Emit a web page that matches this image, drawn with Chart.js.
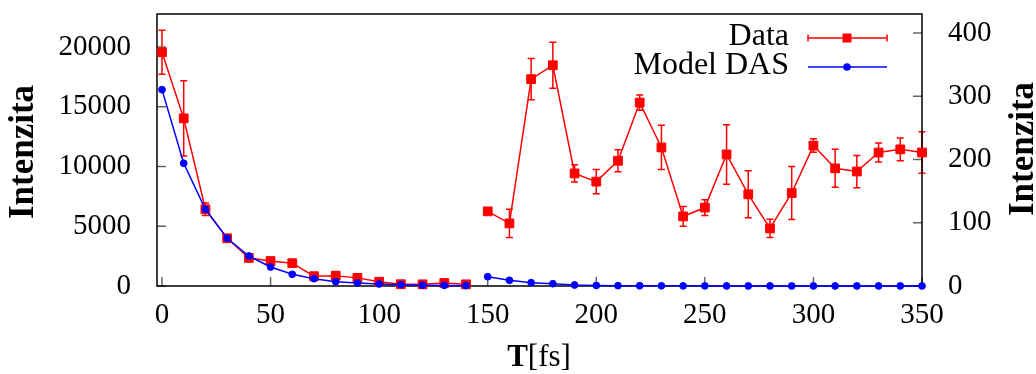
<!DOCTYPE html>
<html>
<head>
<meta charset="utf-8">
<script src="https://cdn.jsdelivr.net/npm/chart.js@4.4.1/dist/chart.umd.min.js"></script>
<style>
  html, body { margin: 0; padding: 0; background: #fff; }
  canvas { display: block; }
</style>
</head>
<body>
<canvas id="dasChart" width="1036" height="374"></canvas>
<script>
// delay times [fs]
const timesEarly = [0, 10, 20, 30, 40, 50, 60, 70, 80, 90, 100, 110, 120, 130, 140];
const timesLate = [150, 160, 170, 180, 190, 200, 210, 220, 230, 240, 250, 260, 270, 280, 290, 300, 310, 320, 330, 340, 350];

// measured intensity, left axis (0-140 fs) and right axis (150-350 fs)
const dataEarly = [19560, 14030, 6420, 3990, 2350, 2090, 1910, 820, 865, 680, 360, 150, 140, 250, 140];
const errEarly = [1850, 3150, 530, 150, 150, 100, 100, 80, 80, 60, 60, 50, 50, 50, 50];
const dataLate = [118, 99, 327, 349, 178, 165, 198, 290, 219, 110, 124, 208, 145, 91, 147, 222, 186, 181, 211, 216, 211];
const errLate = [3, 22.5, 32.5, 36.5, 13.5, 19, 17.5, 12, 35, 15.5, 12.5, 47, 37, 14.5, 42, 10.7, 30, 25.5, 15, 17.8, 32.8];

// DAS model
const modelEarly = [16430, 10270, 6420, 3990, 2510, 1590, 980, 610, 360, 250, 170, 110, 70, 50, 30];
const modelLate = [14.7, 9, 5.2, 3.6, 1.6, 0.8, 0.5, 0.4, 0.3, 0.2, 0.2, 0.1, 0.1, 0.1, 0.1, 0.1, 0.1, 0.1, 0.1, 0.1, 0.1];

// tick labels
const xTicks = [0, 50, 100, 150, 200, 250, 300, 350];
const yTicks = [0, 5000, 10000, 15000, 20000];
const y2Ticks = [0, 100, 200, 300, 400];

const RED = "rgb(255, 0, 0)";
const BLUE = "rgb(0, 0, 255)";
const FONT = "Liberation Serif";

function pairs(xs, ys) {
  return xs.map((x, i) => ({ x: x, y: ys[i] }));
}

function fixedTicks(values) {
  return function (scale) {
    scale.ticks = values.map((v) => ({ value: v }));
  };
}

// plain numbers, no thousands separator
function plain(value) {
  return String(value);
}

const tickFont = { family: FONT, size: 29 };

// frame, inward tick marks, error bars, titles and the key
const gnuplotLook = {
  id: "gnuplotLook",
  beforeDatasetsDraw(chart) {
    const { ctx, chartArea: a, scales } = chart;
    ctx.save();

    // error bars
    ctx.strokeStyle = RED;
    ctx.lineWidth = 1.5;
    chart.data.datasets.forEach((ds) => {
      if (!ds.errors) return;
      const ys = scales[ds.yAxisID];
      ds.data.forEach((p, j) => {
        const px = scales.x.getPixelForValue(p.x);
        const top = ys.getPixelForValue(p.y + ds.errors[j]);
        const bot = ys.getPixelForValue(p.y - ds.errors[j]);
        ctx.beginPath();
        ctx.moveTo(px, top);
        ctx.lineTo(px, bot);
        ctx.moveTo(px - 3.5, top);
        ctx.lineTo(px + 3.5, top);
        ctx.moveTo(px - 3.5, bot);
        ctx.lineTo(px + 3.5, bot);
        ctx.stroke();
      });
    });

    // tick marks point into the plot
    ctx.strokeStyle = "#666";
    ctx.lineWidth = 1.5;
    ctx.beginPath();
    scales.x.ticks.forEach((t) => {
      const px = scales.x.getPixelForValue(t.value);
      ctx.moveTo(px, a.bottom);
      ctx.lineTo(px, a.bottom - 9);
    });
    scales.y.ticks.forEach((t) => {
      const py = scales.y.getPixelForValue(t.value);
      ctx.moveTo(a.left, py);
      ctx.lineTo(a.left + 9, py);
    });
    scales.y2.ticks.forEach((t) => {
      const py = scales.y2.getPixelForValue(t.value);
      ctx.moveTo(a.right, py);
      ctx.lineTo(a.right - 9, py);
    });
    ctx.stroke();

    ctx.strokeStyle = "#000";
    ctx.lineWidth = 1.5;
    ctx.strokeRect(a.left, a.top, a.right - a.left, a.bottom - a.top);
    ctx.restore();
  },
  afterDraw(chart) {
    const ctx = chart.ctx;
    ctx.save();
    ctx.fillStyle = "#000";

    // rotated y titles, both read bottom to top
    ctx.font = "bold 35px " + FONT;
    ctx.textAlign = "center";
    ctx.textBaseline = "alphabetic";
    [[33, 152], [1033, 149]].forEach(([tx, ty]) => {
      ctx.save();
      ctx.translate(tx, ty);
      ctx.rotate(-Math.PI / 2);
      ctx.fillText("Intenzita", 0, 0);
      ctx.restore();
    });

    // x title: bold T followed by the unit
    ctx.textAlign = "left";
    ctx.font = "bold 31px " + FONT;
    const wT = ctx.measureText("T").width;
    ctx.font = "31px " + FONT;
    const wU = ctx.measureText("[fs]").width;
    const x0 = 539 - (wT + wU) / 2;
    ctx.font = "bold 31px " + FONT;
    ctx.fillText("T", x0, 366);
    ctx.font = "31px " + FONT;
    ctx.fillText("[fs]", x0 + wT, 366);

    // key
    ctx.font = "32px " + FONT;
    ctx.textAlign = "right";
    ctx.fillText("Data", 789, 45);
    ctx.fillText("Model DAS", 789, 74);

    ctx.lineWidth = 1.5;
    ctx.strokeStyle = RED;
    ctx.beginPath();
    ctx.moveTo(808, 38);
    ctx.lineTo(887, 38);
    ctx.moveTo(808, 34.5);
    ctx.lineTo(808, 41.5);
    ctx.moveTo(887, 34.5);
    ctx.lineTo(887, 41.5);
    ctx.stroke();
    ctx.fillStyle = RED;
    ctx.fillRect(842.5, 33.5, 9, 9);

    ctx.strokeStyle = BLUE;
    ctx.beginPath();
    ctx.moveTo(808, 67);
    ctx.lineTo(887, 67);
    ctx.stroke();
    ctx.fillStyle = BLUE;
    ctx.beginPath();
    ctx.arc(847, 67, 3.8, 0, Math.PI * 2);
    ctx.fill();
    ctx.restore();
  },
};

function series(label, xs, ys, axis, color, style, radius, order, errors) {
  return {
    label: label,
    data: pairs(xs, ys),
    yAxisID: axis,
    errors: errors,
    showLine: true,
    borderColor: color,
    backgroundColor: color,
    borderWidth: 1.5,
    pointStyle: style,
    pointRadius: radius,
    pointBorderWidth: 1,
    pointBorderColor: color,
    pointBackgroundColor: color,
    order: order,
    clip: false,
  };
}

const config = {
  type: "scatter",
  data: {
    datasets: [
      series("Data", timesEarly, dataEarly, "y", RED, "rect", 6.2, 2, errEarly),
      series("Data", timesLate, dataLate, "y2", RED, "rect", 6.2, 2, errLate),
      series("Model DAS", timesEarly, modelEarly, "y", BLUE, "circle", 3.4, 1),
      series("Model DAS", timesLate, modelLate, "y2", BLUE, "circle", 3.4, 1),
    ],
  },
  options: {
    responsive: false,
    animation: false,
    devicePixelRatio: 1,
    layout: { padding: { top: 14, left: 0, right: 0, bottom: 0 } },
    plugins: {
      legend: { display: false },
      tooltip: { enabled: false },
    },
    scales: {
      x: {
        type: "linear",
        min: -2.3,
        max: 350,
        afterBuildTicks: fixedTicks(xTicks),
        afterFit: function (scale) {
          scale.height = 88;
          scale.paddingLeft = 0;
          scale.paddingRight = 0;
        },
        grid: { display: false },
        border: { display: false },
        ticks: { font: tickFont, color: "#000", padding: 4, maxRotation: 0, callback: plain },
      },
      y: {
        position: "left",
        min: 0,
        max: 22760,
        afterBuildTicks: fixedTicks(yTicks),
        afterFit: function (scale) {
          scale.width = 157;
          scale.paddingTop = 0;
          scale.paddingBottom = 0;
        },
        grid: { display: false },
        border: { display: false },
        ticks: { font: tickFont, color: "#000", padding: 18, callback: plain },
      },
      y2: {
        position: "right",
        min: 0,
        max: 430,
        afterBuildTicks: fixedTicks(y2Ticks),
        afterFit: function (scale) {
          scale.width = 114;
          scale.paddingTop = 0;
          scale.paddingBottom = 0;
        },
        grid: { display: false },
        border: { display: false },
        ticks: { font: tickFont, color: "#000", padding: 18, callback: plain },
      },
    },
  },
  plugins: [gnuplotLook],
};

new Chart(document.getElementById("dasChart"), config);
</script>
</body>
</html>
